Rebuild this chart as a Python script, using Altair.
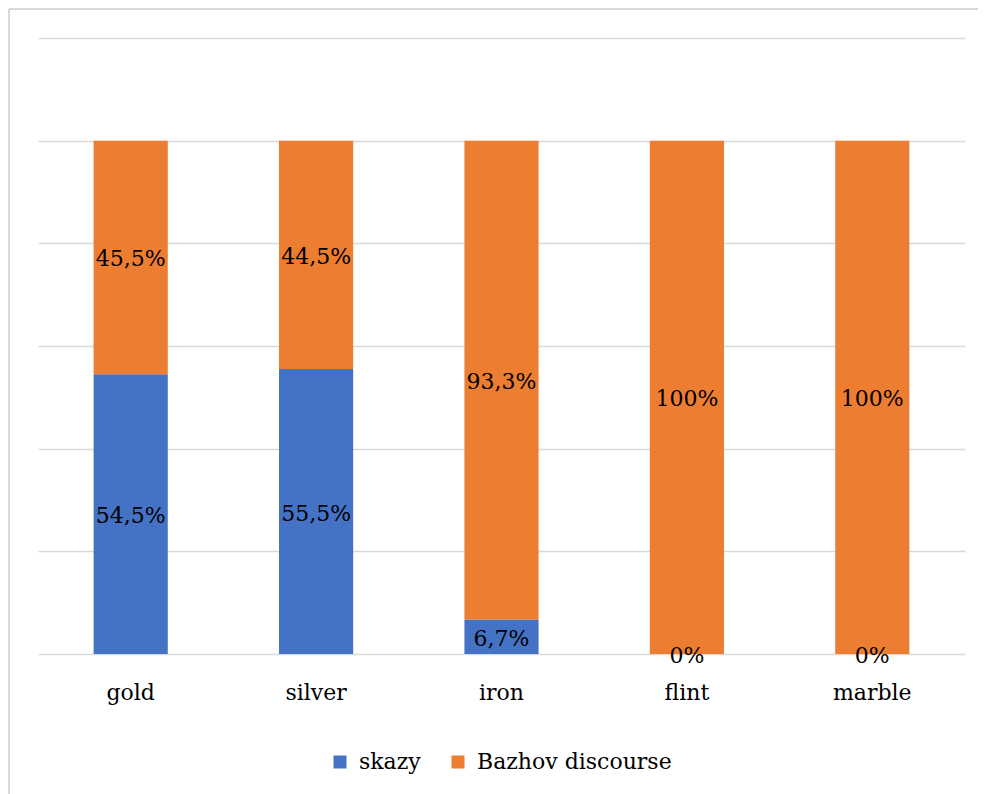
import altair as alt
import pandas as pd

categories = ["gold", "silver", "iron", "flint", "marble"]
skazy = [54.5, 55.5, 6.7, 0, 0]
bazhov = [45.5, 44.5, 93.3, 100, 100]
series_names = ["skazy", "Bazhov discourse"]
colors = ["#4472C4", "#ED7D31"]
grid_values = [0, 0.2, 0.4, 0.6, 0.8, 1.0, 1.2]


def fmt(v):
    return f"{v:g}".replace(".", ",") + "%"


rows = []
for i, c in enumerate(categories):
    rows.append({"cat": c, "series": series_names[0], "order": 0, "value": skazy[i] / 100, "label": fmt(skazy[i])})
    rows.append({"cat": c, "series": series_names[1], "order": 1, "value": bazhov[i] / 100, "label": fmt(bazhov[i])})
df = pd.DataFrame(rows)

FONT = "DejaVu Serif"
FS = 22
W, H = 927, 616

x_enc = alt.X(
    "cat:N",
    sort=categories,
    scale=alt.Scale(paddingInner=0.6, paddingOuter=0.3),
    axis=alt.Axis(
        title=None, labelAngle=0, domain=False, ticks=False,
        labelFont=FONT, labelFontSize=FS, labelColor="#000000", labelPadding=28,
    ),
)

bars = alt.Chart(df).mark_bar().encode(
    x=x_enc,
    y=alt.Y(
        "value:Q", stack="zero",
        scale=alt.Scale(domain=[0, 1.2], nice=False),
        axis=alt.Axis(
            title=None, labels=False, ticks=False, domain=False, grid=True,
            values=grid_values, gridColor="#D9D9D9", gridWidth=1.5,
        ),
    ),
    color=alt.Color(
        "series:N",
        scale=alt.Scale(domain=series_names, range=colors),
        legend=alt.Legend(
            title=None, orient="none", direction="horizontal",
            legendX=291, legendY=713,
            symbolType="square", symbolSize=169, symbolStrokeWidth=0,
            labelFont=FONT, labelFontSize=FS, labelColor="#000000",
            labelOffset=8, columnPadding=26, labelLimit=500,
        ),
    ),
    order=alt.Order("order:Q"),
)

labels = alt.Chart(df).transform_stack(
    stack="value", groupby=["cat"], as_=["y0", "y1"], sort=[alt.SortField("order")]
).transform_calculate(
    mid="(datum.y0 + datum.y1) / 2"
).mark_text(
    font=FONT, fontSize=FS, color="#000000", baseline="middle", dy=2
).encode(
    x=alt.X("cat:N", sort=categories),
    y=alt.Y("mid:Q"),
    text="label:N",
)

border_left = alt.Chart(pd.DataFrame({"a": [0]})).mark_rule(color="#D9D9D9", strokeWidth=2).encode(
    x=alt.value(-29), y=alt.value(-29), y2=alt.value(H + 140)
)
border_top = alt.Chart(pd.DataFrame({"a": [0]})).mark_rule(color="#D9D9D9", strokeWidth=2).encode(
    y=alt.value(-29), x=alt.value(-29), x2=alt.value(W + 20)
)

chart = alt.layer(bars, labels, border_left, border_top).properties(
    width=W, height=H,
    padding={"left": 30, "top": 30, "right": 13, "bottom": 140},
    autosize=alt.AutoSizeParams(type="none"),
    background="#FFFFFF",
).configure_view(stroke=None)

chart.save("out.html", embed_options={"renderer": "svg", "actions": False})
